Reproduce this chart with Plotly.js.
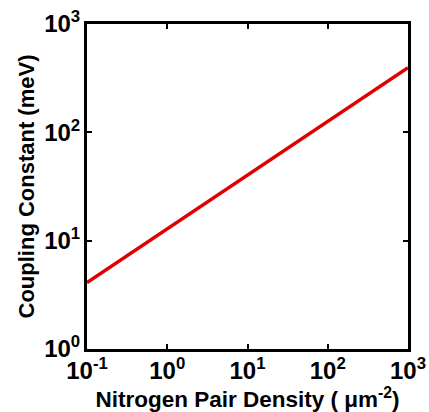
<!DOCTYPE html>
<html>
<head>
<meta charset="utf-8">
<script src="https://cdn.plot.ly/plotly-3.0.1.min.js"></script>
<style>html,body{margin:0;padding:0;background:#fff;}#chart{width:429px;height:412px;}</style>
</head>
<body>
<div id="chart"></div>
<script>
var density = [0.1, 1, 10, 100, 1000];
var coupling = [4.1, 12.9, 40.3, 126, 395];
var xTickVals = [0.1, 1, 10, 100, 1000];
var xTickText = ['10<sup>-1</sup>', '10<sup>0</sup>', '10<sup>1</sup>', '10<sup>2</sup>', '10<sup>3</sup>'];
var yTickVals = [1, 10, 100, 1000];
var yTickText = ['10<sup>0</sup>', '10<sup>1</sup>', '10<sup>2</sup>', '10<sup>3</sup>'];

var font = 'Liberation Sans, Arial, sans-serif';
var trace = {
  x: density, y: coupling, type: 'scatter', mode: 'lines',
  line: {color: '#e00000', width: 3.5}, hoverinfo: 'none'
};
var axisCommon = {
  type: 'log', showgrid: false, zeroline: false,
  showline: true, linecolor: '#000', linewidth: 3, mirror: 'ticks',
  ticks: 'inside', ticklen: 5, tickwidth: 2, tickcolor: '#000',
  tickfont: {family: font, size: 24, color: '#000', weight: 'bold'}
};
var layout = {
  width: 429, height: 412,
  margin: {l: 87, r: 21, t: 24, b: 63},
  paper_bgcolor: '#fff', plot_bgcolor: '#fff',
  showlegend: false,
  xaxis: Object.assign({}, axisCommon, {
    range: [-1, 3], tickvals: xTickVals, ticktext: xTickText, ticklabelstandoff: -2,
    title: {text: 'Nitrogen Pair Density ( μm<sup>-2</sup>)', standoff: 0,
      font: {family: font, size: 22.5, color: '#000', weight: 'bold'}}
  }),
  yaxis: Object.assign({}, axisCommon, {
    range: [0, 3], tickvals: yTickVals, ticktext: yTickText, ticklabelstandoff: -1,
    title: {text: 'Coupling Constant (meV)', standoff: 4,
      font: {family: font, size: 22, color: '#000', weight: 'bold'}}
  })
};
Plotly.newPlot('chart', [trace], layout, {staticPlot: true, displayModeBar: false});
</script>
</body>
</html>
